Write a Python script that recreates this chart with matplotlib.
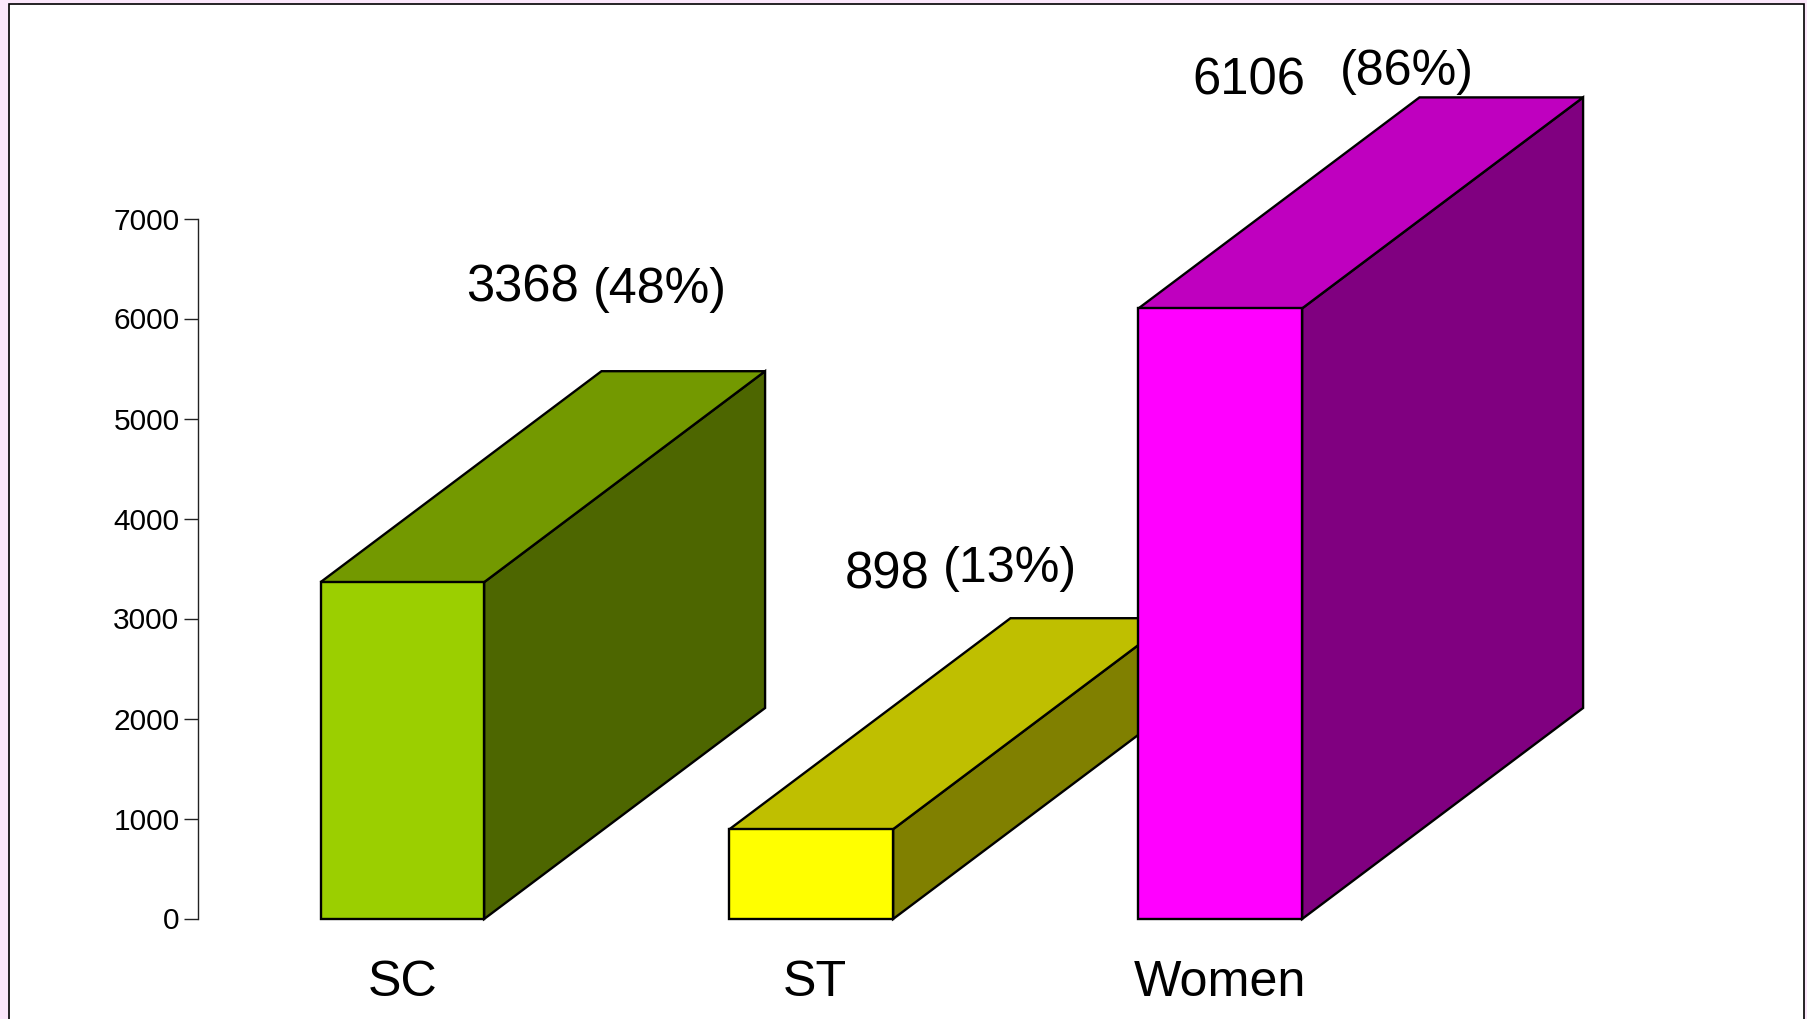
import matplotlib
matplotlib.use("Agg")
import matplotlib.pyplot as plt
from matplotlib.patches import Polygon, Rectangle
from matplotlib.transforms import ScaledTranslation

plt.rcParams['font.family'] = ['Liberation Sans', 'DejaVu Sans']

categories = ['SC', 'ST', 'Women']
values = [3368, 898, 6106]
value_labels = ['3368', '898', '6106']
percent_labels = ['(48%)', '(13%)', '(86%)']
front_colors = ['#9BCF00', '#FFFF00', '#FF00FF']
top_colors = ['#739900', '#BFBF00', '#BF00BF']
side_colors = ['#4D6600', '#808000', '#800080']
y_ticks = [0, 1000, 2000, 3000, 4000, 5000, 6000, 7000]

W, H = 1808, 1020
BAR_W = 0.4
DEPTH_X = 0.687
DEPTH_Y = 2110

fig = plt.figure(figsize=(W / 100, H / 100), dpi=100, facecolor='#FBE7FB')
fig.add_artist(Rectangle((8.5 / W, -0.02), (1804 - 8.5) / W, 1.02 - 4.5 / H,
                         transform=fig.transFigure, facecolor='white',
                         edgecolor='black', linewidth=1.2, zorder=-1))

ax = fig.add_axes([197.8 / W, 1 - 920 / H, 1227 / W, 700 / H])
ax.set_xlim(-0.5, 2.5)
ax.set_ylim(0, 7000)
ax.patch.set_visible(False)
for s in ['top', 'right', 'bottom']:
    ax.spines[s].set_visible(False)
ax.spines['left'].set_color('#222222')
ax.spines['left'].set_linewidth(1.0)
ax.set_yticks(y_ticks)
ax.tick_params(axis='y', length=10, width=1.0, color='#222222', pad=3.2, labelsize=21.5)
ax.set_xticks(range(len(categories)))
ax.set_xticklabels(categories)
ax.tick_params(axis='x', length=0, pad=28.5, labelsize=36.2)

for label in ax.get_yticklabels():
    label.set_transform(label.get_transform() + ScaledTranslation(0, 1.5 / 100, fig.dpi_scale_trans))
st_label = ax.get_xticklabels()[1]
st_label.set_transform(st_label.get_transform() + ScaledTranslation(3.5 / 100, 0, fig.dpi_scale_trans))

for i, v in enumerate(values):
    l, r = i - BAR_W / 2, i + BAR_W / 2
    kw = dict(edgecolor='black', linewidth=1.7, joinstyle='miter', clip_on=False, zorder=3 + i)
    ax.add_patch(Polygon([(r, 0), (r + DEPTH_X, DEPTH_Y), (r + DEPTH_X, v + DEPTH_Y), (r, v)],
                         facecolor=side_colors[i], **kw))
    ax.add_patch(Polygon([(l, v), (r, v), (r + DEPTH_X, v + DEPTH_Y), (l + DEPTH_X, v + DEPTH_Y)],
                         facecolor=top_colors[i], **kw))
    ax.add_patch(Rectangle((l, 0), BAR_W, v, facecolor=front_colors[i], **kw))

val_pos = [(466, 288), (845, 575), (1192, 81)]
pct_pos = [(593, 290), (943, 569), (1340, 72)]
for txt, (x, y) in zip(value_labels, val_pos):
    fig.text(x / W, 1 - y / H, txt, fontsize=36.5, ha='left', va='center', color='black')
for txt, (x, y) in zip(percent_labels, pct_pos):
    fig.text(x / W, 1 - y / H, txt, fontsize=36.2, ha='left', va='center', color='black')

fig.savefig('out.png', dpi=100, facecolor=fig.get_facecolor())
